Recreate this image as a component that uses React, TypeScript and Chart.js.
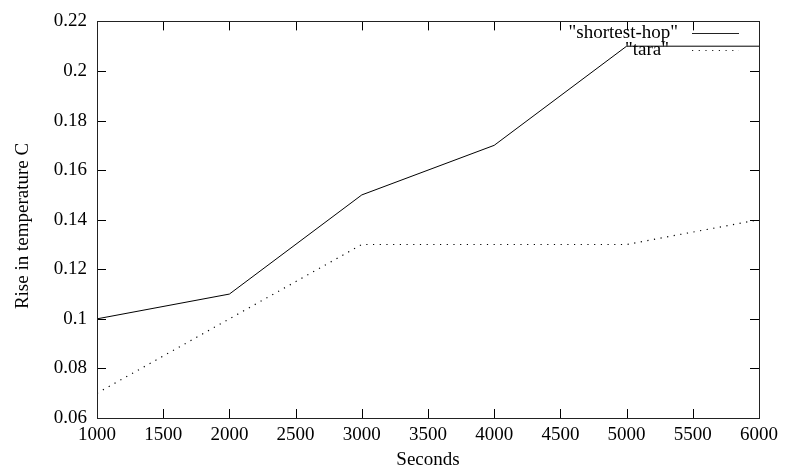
import React, { useEffect, useRef } from "react";
import { Chart, registerables } from "chart.js";

Chart.register(...registerables);

const seconds = [1000, 2000, 3000, 4000, 5000, 6000];
const shortestHop = [0.1, 0.11, 0.15, 0.17, 0.21, 0.21];
const tara = [0.07, 0.1, 0.13, 0.13, 0.13, 0.14];
const seriesLabels = ['"shortest-hop"', '"tara"'];
const xTitle = "Seconds";
const yTitle = "Rise in temperature C";

const FONT = '"Liberation Serif", "Times New Roman", serif';

const framePlugin = {
  id: "gnuFrame",
  afterDraw(chart: any) {
    const { ctx, chartArea } = chart;
    const { left, right, top, bottom } = chartArea;
    const xs = chart.scales.x;
    const ys = chart.scales.y;
    const tl = 9;
    ctx.save();
    ctx.strokeStyle = "#000";
    ctx.lineWidth = 1;
    ctx.beginPath();
    xs.ticks.forEach((t: any) => {
      const px = Math.round(xs.getPixelForValue(t.value)) + 0.5;
      ctx.moveTo(px, bottom);
      ctx.lineTo(px, bottom - tl);
      ctx.moveTo(px, top);
      ctx.lineTo(px, top + tl);
    });
    ys.ticks.forEach((t: any) => {
      const py = Math.round(ys.getPixelForValue(t.value)) + 0.5;
      ctx.moveTo(left, py);
      ctx.lineTo(left + tl, py);
      ctx.moveTo(right, py);
      ctx.lineTo(right - tl, py);
    });
    ctx.stroke();
    ctx.strokeStyle = "#222";
    ctx.strokeRect(Math.round(left) + 0.5, Math.round(top) + 0.5, Math.round(right - left), Math.round(bottom - top));

    // titles
    ctx.fillStyle = "#000";
    ctx.font = `19px ${FONT}`;
    ctx.textAlign = "center";
    ctx.textBaseline = "middle";
    ctx.fillText(xTitle, (left + right) / 2, 460);
    ctx.save();
    ctx.translate(23, 226);
    ctx.rotate(-Math.PI / 2);
    ctx.fillText(yTitle, 0, 0);
    ctx.restore();

    // legend
    ctx.textAlign = "right";
    ctx.fillText(seriesLabels[0], 678, 33);
    ctx.fillText(seriesLabels[1], 669, 50);
    ctx.lineWidth = 1;
    ctx.beginPath();
    ctx.moveTo(692, 33.5);
    ctx.lineTo(739, 33.5);
    ctx.stroke();
    ctx.setLineDash([1.2, 5.5]);
    ctx.beginPath();
    ctx.moveTo(692, 50.5);
    ctx.lineTo(739, 50.5);
    ctx.stroke();
    ctx.restore();
  },
};

export default function App() {
  const ref = useRef<HTMLCanvasElement>(null);
  useEffect(() => {
    if (!ref.current) return;
    const chart = new Chart(ref.current, {
      type: "line",
      data: {
        datasets: [
          {
            label: seriesLabels[0],
            data: seconds.map((s, i) => ({ x: s, y: shortestHop[i] })),
            borderColor: "#000",
            borderWidth: 1,
            pointRadius: 0,
            fill: false,
          },
          {
            label: seriesLabels[1],
            data: seconds.map((s, i) => ({ x: s, y: tara[i] })),
            borderColor: "#000",
            borderWidth: 1.2,
            borderDash: [1.2, 5.5],
            pointRadius: 0,
            fill: false,
          },
        ],
      },
      options: {
        animation: false,
        responsive: true,
        maintainAspectRatio: false,
        layout: { padding: { top: 16.5, right: 27, left: 0, bottom: 0 } },
        plugins: { legend: { display: false }, tooltip: { enabled: false } },
        scales: {
          x: {
            type: "linear",
            min: 1000,
            max: 6000,
            grid: { display: false, drawTicks: false },
            border: { display: false },
            ticks: {
              stepSize: 500,
              padding: 6,
              color: "#000",
              maxRotation: 0,
              font: { family: FONT, size: 19 },
              callback: (v: any) => String(Math.round(Number(v))),
            },
            afterFit: (s: any) => {
              s.height = 51;
            },
          },
          y: {
            type: "linear",
            min: 0.06,
            max: 0.22,
            grid: { display: false, drawTicks: false },
            border: { display: false },
            ticks: {
              stepSize: 0.02,
              padding: 10,
              color: "#000",
              font: { family: FONT, size: 19 },
              callback: (v: any) => String(parseFloat(Number(v).toFixed(2))),
            },
            afterFit: (s: any) => {
              s.width = 97;
            },
          },
        },
      },
      plugins: [framePlugin],
    });
    return () => chart.destroy();
  }, []);
  return (
    <div style={{ position: "absolute", left: 0, top: 0, width: 786, height: 469 }}>
      <canvas ref={ref} />
    </div>
  );
}
